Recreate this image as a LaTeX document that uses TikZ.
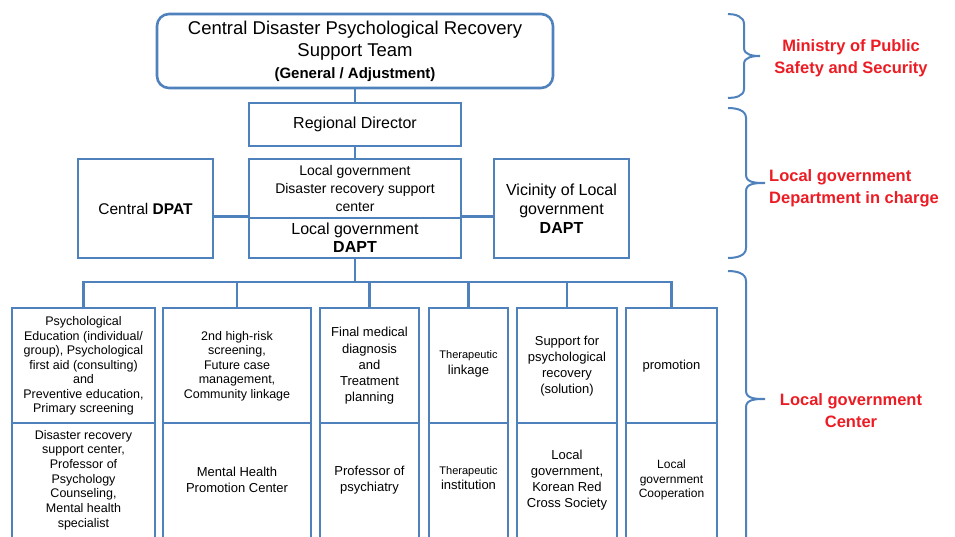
\documentclass[tikz,border=0pt]{standalone}
\usepackage{fontspec}
\setmainfont{Liberation Sans}
\definecolor{lineblue}{RGB}{79,129,189}
\definecolor{labelred}{RGB}{236,28,36}
\newcommand{\fs}[2]{\fontsize{#1}{#2}\selectfont}
\begin{document}
\begin{tikzpicture}[x=1pt,y=-1pt,
  box/.style={draw=lineblue, line width=2.6pt, fill=white, inner sep=0pt, align=center},
  cell/.style={box, minimum height=#1},
  txt/.style={inner sep=0pt, align=center},
  link/.style={draw=lineblue, line width=2.6pt},
  bracepath/.style={draw=lineblue, line width=2pt},
  note/.style={text=labelred, inner sep=0pt, font=\bfseries\fs{16.5}{21.5}}]
\useasboundingbox (0,0) rectangle (955,537);
\clip (0,0) rectangle (955,537);

% ---- top level
\node[box, rounded corners=12pt, minimum width=396pt, minimum height=74pt, font=\fs{18.5}{22}]
  (team) at (355,51) {Central Disaster Psychological Recovery\\Support Team\\{\bfseries\fs{15}{22}(General / Adjustment)}};
\node[box, minimum width=212pt, minimum height=43pt, font=\fs{16}{19}]
  (regional) at (355,124.5) {Regional Director};

% ---- local government level
\node[box, minimum width=212pt, minimum height=59pt, font=\fs{14}{18}]
  (center) at (355,188.5) {Local government\\Disaster recovery support\\center};
\node[box, minimum width=212pt, minimum height=40pt, font=\fs{16}{18}]
  (localdapt) at (355,238) {Local government\\\textbf{DAPT}};
\node[box, minimum width=135pt, minimum height=99pt, font=\fs{15.5}{19}]
  (cdpat) at (145.5,208.5) {Central \textbf{DPAT}};
\node[box, minimum width=135pt, minimum height=99pt, font=\fs{16}{19}]
  (vicinity) at (561.5,208.5) {Vicinity of Local\\government\\\textbf{DAPT}};

\draw[link] (team.south) -- (regional.north);
\draw[link] (regional.south) -- (center.north);
\draw[link] (cdpat.east |- localdapt.north west) -- (localdapt.north west);
\draw[link] (localdapt.north east) -- (vicinity.west |- localdapt.north east);

% ---- center level: task cells (top row) and agency cells (bottom row)
\node[cell=115pt, minimum width=143pt] (t1) at (83.5,365.5) {};
\node[cell=115pt, minimum width=148pt] (t2) at (237,365.5) {};
\node[cell=115pt, minimum width=99pt]  (t3) at (369.5,365.5) {};
\node[cell=115pt, minimum width=79pt]  (t4) at (468.5,365.5) {};
\node[cell=115pt, minimum width=100pt] (t5) at (567,365.5) {};
\node[cell=115pt, minimum width=91pt]  (t6) at (671.5,365.5) {};
\node[cell=127pt, minimum width=143pt] (b1) at (83.5,486.5) {};
\node[cell=127pt, minimum width=148pt] (b2) at (237,486.5) {};
\node[cell=127pt, minimum width=99pt]  (b3) at (369.5,486.5) {};
\node[cell=127pt, minimum width=79pt]  (b4) at (468.5,486.5) {};
\node[cell=127pt, minimum width=100pt] (b5) at (567,486.5) {};
\node[cell=127pt, minimum width=91pt]  (b6) at (671.5,486.5) {};

\node[txt, font=\fs{12.5}{14.5}] (t1x) at (83.5,366) {Psychological\\Education (individual/\\group), Psychological\\first aid (consulting)\\and\\Preventive education,\\Primary screening};
\node[txt, font=\fs{12.5}{14.5}] (t2x) at (237,366) {2nd high-risk\\screening,\\Future case\\management,\\Community linkage};
\node[txt, font=\fs{13}{16.2}] (t3x) at (369.5,366) {Final medical\\diagnosis\\and\\Treatment\\planning};
\node[txt, font=\fs{13}{16}] (t4x) at (468.5,364) {{\fs{11}{16}Therapeutic}\\linkage};
\node[txt, font=\fs{13}{16}] (t5x) at (567,366) {Support for\\psychological\\recovery\\(solution)};
\node[txt, font=\fs{13}{16}] (t6x) at (671.5,366) {promotion};

\node[txt, font=\fs{12.5}{14.7}] (b1x) at (83.5,480) {Disaster recovery\\support center,\\Professor of\\Psychology\\Counseling,\\Mental health\\specialist};
\node[txt, font=\fs{13}{16}] (b2x) at (237,480) {Mental Health\\Promotion Center};
\node[txt, font=\fs{13}{16.5}] (b3x) at (369.5,480) {Professor of\\psychiatry};
\node[txt, font=\fs{13}{15}] (b4x) at (468.5,478.5) {{\fs{11}{15}Therapeutic}\\institution};
\node[txt, font=\fs{13}{16}] (b5x) at (567,480) {Local\\government,\\Korean Red\\Cross Society};
\node[txt, font=\fs{12}{14.5}] (b6x) at (671.5,480) {Local\\government\\Cooperation};

% ---- distribution bus
\coordinate (bus) at (355,282);
\draw[link] (localdapt.south) -- (bus);
\draw[link, line cap=rect] (t1.north |- bus) -- (t6.north |- bus);
\foreach \c in {t1,t2,t3,t4,t5,t6}
  \draw[link] (\c.north |- bus) -- (\c.north);

% ---- braces and level labels
\draw[bracepath] (728,14) to[out=0,in=90] (744,24) -- (744,48)
  to[out=-90,in=180] (760,56) to[out=180,in=90] (744,64) -- (744,89) to[out=-90,in=0] (728,98);
\draw[bracepath] (728,108) to[out=0,in=90] (746,118) -- (746,175)
  to[out=-90,in=180] (765,183) to[out=180,in=90] (746,191) -- (746,248) to[out=-90,in=0] (728,258);
\draw[bracepath] (728,271) to[out=0,in=90] (746,281) -- (746,391)
  to[out=-90,in=180] (765,399) to[out=180,in=90] (746,407) -- (746,545);

\node[note, align=center] (ministry) at (851,58) {Ministry of Public\\Safety and Security};
\node[note, align=left, anchor=west] (dept) at (769,188.5) {Local government\\Department in charge};
\node[note, align=center] (lgcenter) at (851,410.5) {Local government\\Center};
\end{tikzpicture}
\end{document}
